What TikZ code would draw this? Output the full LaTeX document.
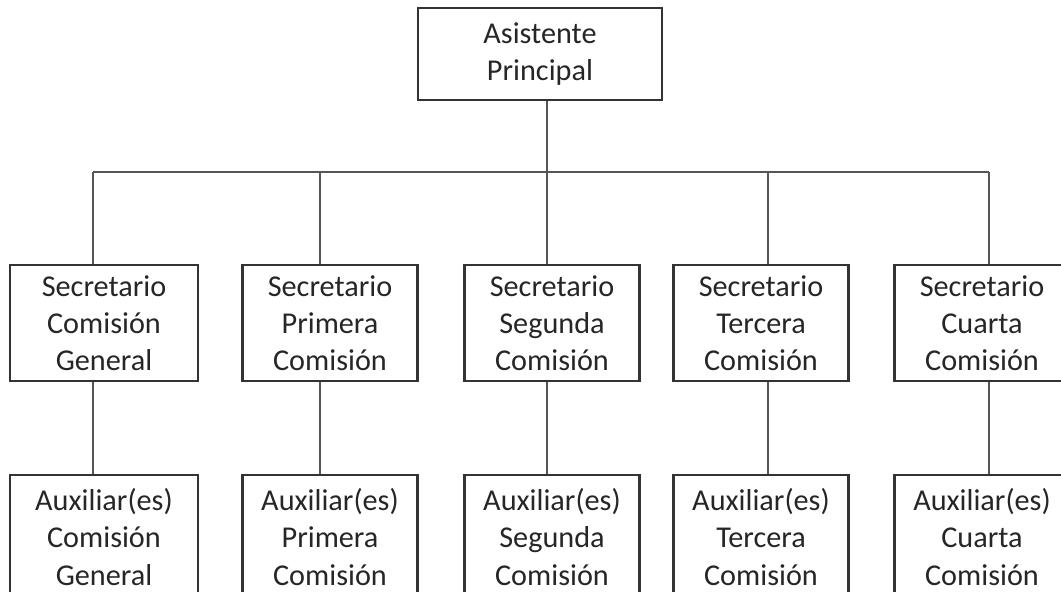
\documentclass[tikz,border=0pt]{standalone}
\usepackage{fontspec}
\setmainfont{Carlito}
\usepackage{xcolor}
\usetikzlibrary{positioning}

\definecolor{boxline}{HTML}{333333}
\definecolor{wire}{HTML}{555555}
\definecolor{ink}{HTML}{262626}

\begin{document}
\begin{tikzpicture}[
  x=0.025cm, y=-0.025cm,
  font=\fontsize{21.5}{26.5}\selectfont,
  unit/.style={draw=boxline, line width=1.7pt, fill=white, text=ink,
               align=center, inner sep=2pt, minimum width=4.375cm, minimum height=2.9cm},
  head/.style={unit, minimum width=6.1cm, minimum height=2.3cm},
  aux/.style={unit, minimum height=3.1cm},
  link/.style={draw=wire, line width=0.9pt}
]
\useasboundingbox (0,0) rectangle (1061,592);
\clip (0,0) rectangle (1061,592);

% connector columns
\coordinate (k1) at (93,172);
\coordinate (k2) at (320,172);
\coordinate (k3) at (547,172);
\coordinate (k4) at (768,172);
\coordinate (k5) at (989,172);

\node[head] (top) at (540,54) {Asistente\\Principal};

\node[unit, minimum width=4.7cm] (sec1) at (104,323) {Secretario\\Comisión\\General};
\node[unit] (sec2) at (330,323) {Secretario\\Primera\\Comisión};
\node[unit] (sec3) at (552,323) {Secretario\\Segunda\\Comisión};
\node[unit] (sec4) at (761,323) {Secretario\\Tercera\\Comisión};
\node[unit] (sec5) at (982,323) {Secretario\\Cuarta\\Comisión};

\node[aux, minimum width=4.7cm] (aux1) at (104,537) {Auxiliar(es)\\Comisión\\General};
\node[aux] (aux2) at (330,537) {Auxiliar(es)\\Primera\\Comisión};
\node[aux] (aux3) at (552,537) {Auxiliar(es)\\Segunda\\Comisión};
\node[aux] (aux4) at (761,537) {Auxiliar(es)\\Tercera\\Comisión};
\node[aux] (aux5) at (982,537) {Auxiliar(es)\\Cuarta\\Comisión};

% wiring
\draw[link] (top.south -| k3) -- (k3);
\draw[link] (k1) -- (k5);
\foreach \i in {1,...,5}{
  \draw[link] (k\i) -- (k\i |- sec\i.north);
  \draw[link] (sec\i.south -| k\i) -- (aux\i.north -| k\i);
}
\end{tikzpicture}
\end{document}
